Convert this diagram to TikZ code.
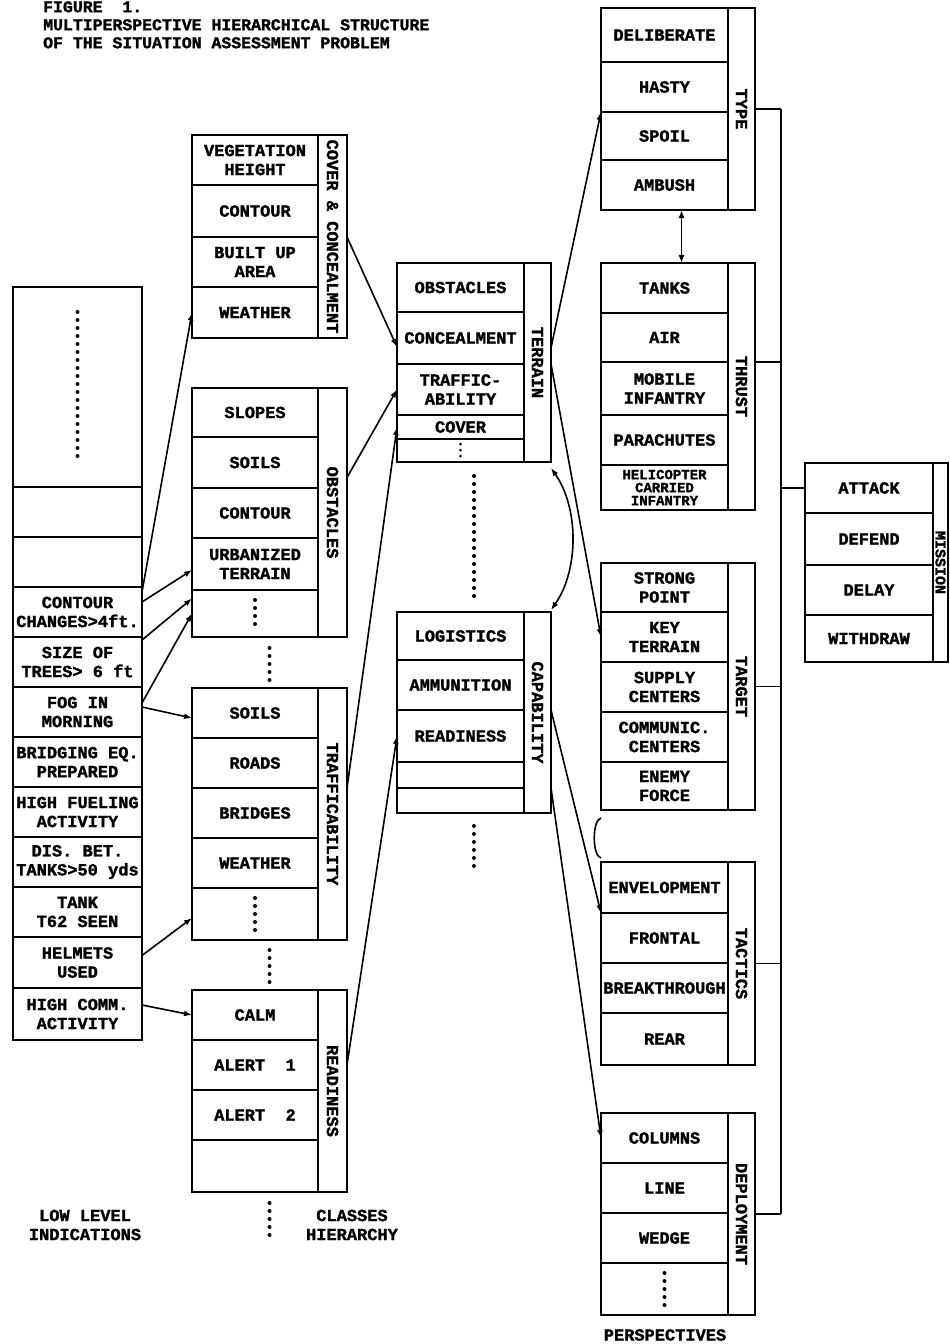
\documentclass[tikz,border=0pt]{standalone}
\usepackage{fontspec}
\usepackage{tikz}
\usetikzlibrary{arrows.meta,positioning,calc}
\newfontfamily\typefont{Liberation Mono}[BoldFeatures={FakeBold=1.5}]
\newcommand\cellfont{\typefont\bfseries\fontsize{17}{19}\selectfont}

\begin{document}
\begin{tikzpicture}[x=1pt, y=-1pt,
  cell/.style={draw, line width=2pt, anchor=north west, inner sep=0pt, outer sep=0pt, align=center, font=\cellfont, minimum width=#1},
  cell/.default=127pt,
  strip/.style={draw, line width=2pt, anchor=north west, inner sep=0pt, outer sep=0pt, minimum width=#1},
  strip/.default=27pt,
  striplab/.style={rotate=-90, inner sep=0pt, font=\cellfont},
  arr/.style={line width=1.6pt, -{Latex[length=8pt,width=6pt]}},
  darr/.style={line width=1.6pt, {Latex[length=8pt,width=6pt]}-{Latex[length=8pt,width=6pt]}},
  link/.style={line width=1.6pt},
  dots/.style={line width=4pt, line cap=round, dash pattern=on 0pt off 8pt},
  fewdots/.style={line width=3pt, line cap=round, dash pattern=on 0pt off 6pt},
  foot/.style={align=center, font=\cellfont, inner sep=0pt}]
  \useasboundingbox (0,0) rectangle (950,1344);
  % title
  \node[anchor=north west, align=left, inner sep=0pt, font=\typefont\bfseries\fontsize{16.5}{18}\selectfont] (title) at (43,1)
    {FIGURE~~1.\\MULTIPERSPECTIVE HIERARCHICAL STRUCTURE\\OF THE SITUATION ASSESSMENT PROBLEM};
  % low level indications
  \foreach \n/\t/\y/\h in {lcA//287/200, lcB//487/50, lcC//537/50,
      chg/{CONTOUR\\CHANGES>4ft.}/587/50, siz/{SIZE OF\\TREES> 6 ft}/637/50,
      fog/{FOG IN\\MORNING}/687/50, brg/{BRIDGING EQ.\\PREPARED}/737/50,
      fue/{HIGH FUELING\\ACTIVITY}/787/50, dis/{DIS. BET.\\TANKS>50 yds}/837/50,
      tnk/{TANK\\T62 SEEN}/887/50, hel/{HELMETS\\USED}/937/51, hcm/{HIGH COMM.\\ACTIVITY}/988/52}
    \node[cell=129pt, minimum height=\h pt] (\n) at (13,\y) {\t};
  \draw[dots] ([yshift=-25pt]lcA.north) -- ([yshift=25pt]lcA.south);
  \node[foot] (lowlab) at (85,1225) {LOW LEVEL\\INDICATIONS};
  % classes: cover & concealment
  \foreach \n/\t/\y/\h in {ccV/{VEGETATION\\HEIGHT}/135/50, ccC/CONTOUR/185/52,
      ccB/{BUILT UP\\AREA}/237/50, ccW/WEATHER/287/51}
    \node[cell=126pt, minimum height=\h pt] (\n) at (192,\y) {\t};
  \node[strip=29pt, minimum height=203pt] (ccX) at (318,135) {};
  \node[striplab] at (ccX) {COVER \& CONCEALMENT};
  % classes: obstacles
  \foreach \n/\t/\y/\h in {obS/SLOPES/388/49, obSo/SOILS/437/51, obC/CONTOUR/488/50,
      obU/{URBANIZED\\TERRAIN}/538/52, obD//590/47}
    \node[cell=126pt, minimum height=\h pt] (\n) at (192,\y) {\t};
  \node[strip=29pt, minimum height=249pt] (obX) at (318,388) {};
  \node[striplab] at (obX) {OBSTACLES};
  \draw[dots] ([yshift=-10pt]obD.north) -- ([yshift=10pt]obD.south);
  \draw[dots] (269.5,648) -- (269.5,680);
  % classes: trafficability
  \foreach \n/\t/\y/\h in {tfS/SOILS/688/50, tfR/ROADS/738/50, tfB/BRIDGES/788/50,
      tfW/WEATHER/838/50, tfD//888/52}
    \node[cell=126pt, minimum height=\h pt] (\n) at (192,\y) {\t};
  \node[strip=29pt, minimum height=252pt] (tfX) at (318,688) {};
  \node[striplab] at (tfX) {TRAFFICABILITY};
  \draw[dots] ([yshift=-10pt]tfD.north) -- ([yshift=10pt]tfD.south);
  \draw[dots] (269.5,950) -- (269.5,982);
  % classes: readiness
  \foreach \n/\t/\y/\h in {rdC/CALM/990/50, rd1/{ALERT~~1}/1040/50, rd2/{ALERT~~2}/1090/50, rdE//1140/52}
    \node[cell=126pt, minimum height=\h pt] (\n) at (192,\y) {\t};
  \node[strip=29pt, minimum height=202pt] (rdX) at (318,990) {};
  \node[striplab] at (rdX) {READINESS};
  \draw[dots] (269.5,1203) -- (269.5,1242);
  \node[foot] (clslab) at (352,1225) {CLASSES\\HIERARCHY};
  % terrain
  \foreach \n/\t/\y/\h in {teO/OBSTACLES/263/49, teC/CONCEALMENT/312/52,
      teT/{TRAFFIC-\\ABILITY}/364/51, teV/COVER/415/24, teD//439/23}
    \node[cell, minimum height=\h pt] (\n) at (397,\y) {\t};
  \node[strip, minimum height=199pt] (teX) at (524,263) {};
  \node[striplab] at (teX) {TERRAIN};
  \draw[fewdots] ([yshift=-5pt]teD.north) -- ([yshift=5pt]teD.south);
  \draw[dots] (474,476) -- (474,600);
  % capability
  \foreach \n/\t/\y/\h in {cpL/LOGISTICS/612/48, cpA/AMMUNITION/660/50,
      cpR/READINESS/710/52, cpE//762/26, cpF//788/25}
    \node[cell, minimum height=\h pt] (\n) at (397,\y) {\t};
  \node[strip, minimum height=201pt] (cpX) at (524,612) {};
  \node[striplab] at (cpX) {CAPABILITY};
  \draw[dots] (474,826) -- (474,870);
  % perspectives: type
  \foreach \n/\t/\y/\h in {tyD/DELIBERATE/8/54, tyH/HASTY/62/50, tyS/SPOIL/112/48, tyA/AMBUSH/160/50}
    \node[cell, minimum height=\h pt] (\n) at (601,\y) {\t};
  \node[strip, minimum height=202pt] (tyX) at (728,8) {};
  \node[striplab] at (tyX) {TYPE};
  % perspectives: thrust
  \foreach \n/\t/\y/\h in {thT/TANKS/263/50, thA/AIR/313/49, thM/{MOBILE\\INFANTRY}/362/53, thP/PARACHUTES/415/50}
    \node[cell, minimum height=\h pt] (\n) at (601,\y) {\t};
  \node[cell, minimum height=45pt, font=\typefont\bfseries\fontsize{14}{13}\selectfont] (thH) at (601,465)
    {HELICOPTER\\CARRIED\\INFANTRY};
  \node[strip, minimum height=247pt] (thX) at (728,263) {};
  \node[striplab] at (thX) {THRUST};
  % perspectives: target
  \foreach \n/\t/\y/\h in {tgS/{STRONG\\POINT}/563/49, tgK/{KEY\\TERRAIN}/612/50,
      tgU/{SUPPLY\\CENTERS}/662/50, tgC/{COMMUNIC.\\CENTERS}/712/50, tgE/{ENEMY\\FORCE}/762/48}
    \node[cell, minimum height=\h pt] (\n) at (601,\y) {\t};
  \node[strip, minimum height=247pt] (tgX) at (728,563) {};
  \node[striplab] at (tgX) {TARGET};
  % perspectives: tactics
  \foreach \n/\t/\y/\h in {taE/ENVELOPMENT/862/51, taF/FRONTAL/913/50, taB/BREAKTHROUGH/963/50, taR/REAR/1013/52}
    \node[cell, minimum height=\h pt] (\n) at (601,\y) {\t};
  \node[strip, minimum height=203pt] (taX) at (728,862) {};
  \node[striplab] at (taX) {TACTICS};
  % perspectives: deployment
  \foreach \n/\t/\y/\h in {dpC/COLUMNS/1113/50, dpL/LINE/1163/50, dpW/WEDGE/1213/50, dpD//1263/52}
    \node[cell, minimum height=\h pt] (\n) at (601,\y) {\t};
  \node[strip, minimum height=202pt] (dpX) at (728,1113) {};
  \node[striplab] at (dpX) {DEPLOYMENT};
  \draw[dots] ([yshift=-10pt]dpD.north) -- ([yshift=10pt]dpD.south);
  \node[foot] (perlab) at (665,1335) {PERSPECTIVES};
  % mission
  \foreach \n/\t/\y/\h in {msA/ATTACK/463/50, msD/DEFEND/513/52, msL/DELAY/565/50, msW/WITHDRAW/615/47}
    \node[cell=128pt, minimum height=\h pt] (\n) at (805,\y) {\t};
  \node[strip=15pt, minimum height=199pt] (msX) at (933,463) {};
  \node[striplab, font=\typefont\bfseries\fontsize{15}{17}\selectfont] at (msX) {MISSION};
  % indications -> classes
  \draw[arr] ([yshift=20pt]chg.east) -- (ccW.west);
  \draw[arr] ([yshift=10pt]chg.east) -- ([yshift=-6pt]obU.west);
  \draw[arr] ([yshift=22pt]siz.east) -- ([yshift=15pt]obD.west);
  \draw[arr] ([yshift=9pt]fog.east) -- (obD.west);
  \draw[arr] ([yshift=5pt]fog.east) -- ([yshift=-5pt]tfS.west);
  \draw[arr] ([yshift=7pt]hel.east) -- ([yshift=-4pt]tfD.west);
  \draw[arr] ([yshift=9pt]hcm.east) -- (rdC.west);
  % classes -> terrain, capability
  \draw[arr] (ccX.east |- ccB.north) -- ([yshift=-9pt]teC.west);
  \draw[arr] ($(obX.east |- obSo.center)+(0,15)$) -- (teT.west);
  \draw[arr] (tfX.east |- tfB.north) -- (teV.west);
  \draw[arr] (rdX.east |- rd1.center) -- (cpR.west);
  \draw[darr] ([yshift=-6pt]teX.south east) .. controls +(28,40) and +(28,-40) .. ([yshift=2pt]cpX.north east);
  % terrain, capability -> perspectives
  \draw[arr] ($(teX.east |- teC.center)+(0,10)$) -- (tyS.north west);
  \draw[arr] (teX.east |- teT.north) -- (tgK.west);
  \draw[arr] (cpX.east |- cpR.north) -- (taF.north west);
  \draw[arr] (cpX.east |- cpE.south) -- (dpC.west);
  \draw[darr] ([xshift=17pt]tyA.south) -- ([xshift=17pt]thT.north);
  \draw[link] ([yshift=-8pt]tgE.south west) .. controls +(-9,2) and +(-9,-2) .. ([yshift=4pt]taE.north west);
  % perspectives -> mission
  \coordinate (bus) at (781,0);
  \draw[link] (tyX.east -| bus) -- (dpX.east -| bus);
  \foreach \b in {tyX, tgX, taX, dpX}
    \draw[link] (\b.east) -- (\b.east -| bus);
  \draw[link] (thX.east |- thM.north) -- (bus |- thM.north);
  \draw[link] (msA.west -| bus) -- (msA.west);
\end{tikzpicture}
\end{document}
